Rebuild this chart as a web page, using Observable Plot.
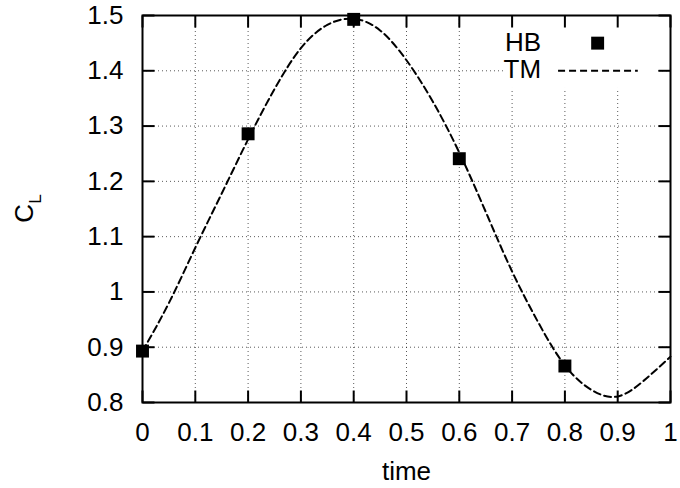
<!DOCTYPE html>
<html>
<head>
<meta charset="utf-8">
<script src="https://cdn.jsdelivr.net/npm/d3@7"></script>
<script src="https://cdn.jsdelivr.net/npm/@observablehq/plot@0.6"></script>
<style>
  html, body { margin: 0; padding: 0; background: #fff; overflow: hidden; }
</style>
</head>
<body>
<div id="chart"></div>
<script>
// ---- data ----
const hbTime = [0, 0.2, 0.4, 0.6, 0.8];
const hbCL   = [0.893, 1.286, 1.493, 1.241, 0.866];

const tmTime = [0, 0.05, 0.1, 0.15, 0.2, 0.25, 0.3, 0.35, 0.4, 0.45, 0.5,
                0.55, 0.6, 0.65, 0.7, 0.75, 0.8, 0.85, 0.9, 0.95, 1.0];
const tmCL   = [0.893, 0.980, 1.080, 1.178, 1.276, 1.367, 1.441, 1.483, 1.494, 1.473, 1.419,
                1.344, 1.252, 1.145, 1.037, 0.944, 0.867, 0.823, 0.811, 0.840, 0.883];

const xTicks = [0, 0.1, 0.2, 0.3, 0.4, 0.5, 0.6, 0.7, 0.8, 0.9, 1];
const xTickLabels = ["0", "0.1", "0.2", "0.3", "0.4", "0.5", "0.6", "0.7", "0.8", "0.9", "1"];
const yTicks = [0.8, 0.9, 1.0, 1.1, 1.2, 1.3, 1.4, 1.5];
const yTickLabels = ["0.8", "0.9", "1", "1.1", "1.2", "1.3", "1.4", "1.5"];

const seriesNames = ["HB", "TM"];
const xTitle = "time";

// ---- build ----
const hb = hbTime.map((t, i) => ({t, v: hbCL[i]}));
const tm = tmTime.map((t, i) => ({t, v: tmCL[i]}));

const FONT = "'Liberation Sans', Arial, Helvetica, sans-serif";
const FS = 26;
const dash = "7,4";
const gridStyle = {stroke: "#000", strokeOpacity: 0.65, strokeDasharray: "1,3", strokeWidth: 1};

const xDom = [0, 1], yDom = [0.8, 1.5];
const W = 680, H = 488, ML = 142, MR = 10, MT = 15, MB = 86;
const TICK = 12; // px, inward
const tx = TICK * (xDom[1] - xDom[0]) / (W - ML - MR);
const ty = TICK * (yDom[1] - yDom[0]) / (H - MT - MB);
const tickStyle = {stroke: "#000", strokeWidth: 2};

const tickBottom = xTicks.map(x => ({x, y1: yDom[0], y2: yDom[0] + ty}));
const tickTop = xTicks.map(x => ({x, y1: yDom[1] - ty, y2: yDom[1]}));
const tickLeft = yTicks.map(y => ({y, x1: xDom[0], x2: xDom[0] + tx}));
const tickRight = yTicks.map(y => ({y, x1: xDom[1] - tx, x2: xDom[1]}));

const chart = Plot.plot({
  width: W,
  height: H,
  marginLeft: ML,
  marginRight: MR,
  marginTop: MT,
  marginBottom: MB,
  style: {fontFamily: FONT, fontSize: FS + "px", background: "#fff", color: "#000"},
  x: {domain: xDom},
  y: {domain: yDom},
  marks: [
    Plot.gridX(xTicks, gridStyle),
    Plot.gridY(yTicks, gridStyle),
    // legend background (hides grid behind key)
    Plot.rect([0], {x1: 0.684, x2: 0.972, y1: 1.368, y2: 1.5, fill: "#fff"}),
    Plot.line(tm, {x: "t", y: "v", curve: "natural", stroke: "#000", strokeWidth: 2, strokeDasharray: dash}),
    Plot.dot(hb, {x: "t", y: "v", symbol: "square", r: 7.3, fill: "#000", stroke: null}),
    // legend
    Plot.text([seriesNames[0]], {x: 0.755, y: 1.451, text: d => d, textAnchor: "end", lineAnchor: "middle", fontSize: FS, fill: "#000"}),
    Plot.text([seriesNames[1]], {x: 0.755, y: 1.402, text: d => d, textAnchor: "end", lineAnchor: "middle", fontSize: FS, fill: "#000"}),
    Plot.dot([0], {x: 0.862, y: 1.45, symbol: "square", r: 7.3, fill: "#000", stroke: null}),
    Plot.ruleY([1.4], {x1: 0.788, x2: 0.939, stroke: "#000", strokeWidth: 2, strokeDasharray: dash}),
    // inward ticks on all four sides
    Plot.link(tickBottom, {x1: "x", x2: "x", y1: "y1", y2: "y2", ...tickStyle}),
    Plot.link(tickTop, {x1: "x", x2: "x", y1: "y1", y2: "y2", ...tickStyle}),
    Plot.link(tickLeft, {y1: "y", y2: "y", x1: "x1", x2: "x2", ...tickStyle}),
    Plot.link(tickRight, {y1: "y", y2: "y", x1: "x1", x2: "x2", ...tickStyle}),
    // tick labels
    Plot.axisX(xTicks, {anchor: "bottom", tickSize: 0, tickPadding: 20,
      tickFormat: d => xTickLabels[xTicks.indexOf(d)], label: null}),
    Plot.axisY(yTicks, {anchor: "left", tickSize: 0, tickPadding: 19,
      tickFormat: d => yTickLabels[yTicks.indexOf(d)], label: null}),
    Plot.text([xTitle], {frameAnchor: "bottom", dy: 69, text: d => d, lineAnchor: "middle", fontSize: FS, fill: "#000"}),
    Plot.frame({stroke: "#000", strokeWidth: 2})
  ]
});

// y-axis title with subscript
const yl = d3.select(chart).append("text")
  .attr("transform", "translate(33,208.5) rotate(-90)")
  .attr("text-anchor", "middle")
  .attr("font-family", FONT)
  .attr("font-size", FS)
  .attr("fill", "#000");
yl.append("tspan").text("C");
yl.append("tspan").attr("font-size", 17).attr("dy", 8).text("L");

document.getElementById("chart").appendChild(chart);
</script>
</body>
</html>
